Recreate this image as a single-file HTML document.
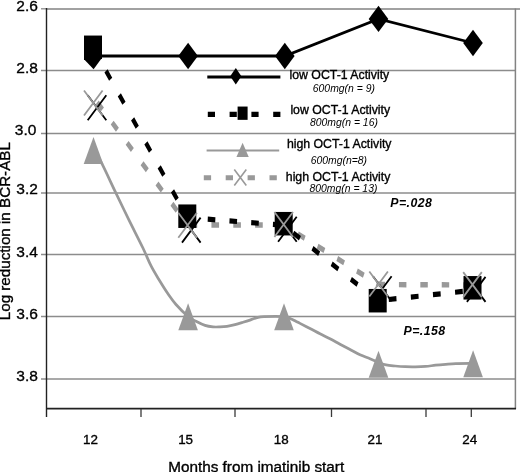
<!DOCTYPE html><html><head><meta charset="utf-8"><style>html,body{margin:0;padding:0;background:#fff;overflow:hidden;width:520px;height:472px;}svg{display:block;will-change:transform;}text{font-family:"Liberation Sans",sans-serif;stroke:#000;stroke-width:0.35px;paint-order:stroke;}text[font-style]{stroke:none;}</style></head><body>
<svg width="520" height="472" viewBox="0 0 520 472">
<rect width="520" height="472" fill="#fff"/>
<line x1="41" y1="8.8" x2="46" y2="8.8" stroke="#8c8c8c" stroke-width="1.3"/>
<line x1="46" y1="9" x2="520" y2="9" stroke="#828282" stroke-width="1.6"/>
<line x1="41" y1="70.5" x2="515.5" y2="70.5" stroke="#8c8c8c" stroke-width="1.3"/>
<line x1="41" y1="133.5" x2="515.5" y2="133.5" stroke="#8c8c8c" stroke-width="1.3"/>
<line x1="41" y1="193" x2="515.5" y2="193" stroke="#8c8c8c" stroke-width="1.3"/>
<line x1="41" y1="254.5" x2="515.5" y2="254.5" stroke="#8c8c8c" stroke-width="1.3"/>
<line x1="41" y1="316.5" x2="515.5" y2="316.5" stroke="#8c8c8c" stroke-width="1.3"/>
<line x1="41" y1="379" x2="515.5" y2="379" stroke="#8c8c8c" stroke-width="1.3"/>
<line x1="515.4" y1="8.5" x2="515.4" y2="409" stroke="#828282" stroke-width="1.5"/>
<line x1="46.5" y1="8" x2="46.5" y2="417" stroke="#222" stroke-width="1.4"/>
<line x1="46" y1="408.6" x2="516" y2="408.6" stroke="#222" stroke-width="1.8"/>
<line x1="141" y1="409" x2="141" y2="417" stroke="#3a3a3a" stroke-width="1.3"/>
<line x1="235" y1="409" x2="235" y2="417" stroke="#3a3a3a" stroke-width="1.3"/>
<line x1="331.5" y1="409" x2="331.5" y2="417" stroke="#3a3a3a" stroke-width="1.3"/>
<line x1="426" y1="409" x2="426" y2="417" stroke="#3a3a3a" stroke-width="1.3"/>
<line x1="471.3" y1="409" x2="471.3" y2="417" stroke="#3a3a3a" stroke-width="1.3"/>
<text transform="translate(37.9,11.0)" font-size="15.5" text-anchor="end" fill="#000">2.6</text>
<text transform="translate(37.9,72.8)" font-size="15.5" text-anchor="end" fill="#000">2.8</text>
<text transform="translate(36.4,135.20000000000002)" font-size="15.5" text-anchor="end" fill="#000">3.0</text>
<text transform="translate(37.9,194.20000000000002)" font-size="15.5" text-anchor="end" fill="#000">3.2</text>
<text transform="translate(37.9,256.7)" font-size="15.5" text-anchor="end" fill="#000">3.4</text>
<text transform="translate(37.9,318.5)" font-size="15.5" text-anchor="end" fill="#000">3.6</text>
<text transform="translate(37.9,380.8)" font-size="15.5" text-anchor="end" fill="#000">3.8</text>
<text x="90.5" y="444.3" font-size="13.4" text-anchor="middle" fill="#000">12</text>
<text x="185.6" y="444.3" font-size="13.4" text-anchor="middle" fill="#000">15</text>
<text x="281.3" y="444.3" font-size="13.4" text-anchor="middle" fill="#000">18</text>
<text x="375" y="444.3" font-size="13.4" text-anchor="middle" fill="#000">21</text>
<text x="469.8" y="444.3" font-size="13.4" text-anchor="middle" fill="#000">24</text>
<text x="256.2" y="472" font-size="15.3" text-anchor="middle" fill="#000">Months from imatinib start</text>
<text transform="translate(10.3,231.2) rotate(-90)" x="0" y="0" font-size="15.2" text-anchor="middle" fill="#000">Log reduction in BCR-ABL</text>
<path d="M93.50,150.20 C94.82,152.28 97.72,155.67 101.40,162.70 C105.08,169.73 111.02,182.87 115.60,192.40 C120.18,201.93 124.38,210.72 128.90,219.90 C133.42,229.08 138.98,239.78 142.70,247.50 C146.42,255.22 148.35,260.62 151.20,266.20 C154.05,271.78 156.95,276.32 159.80,281.00 C162.65,285.68 165.60,290.38 168.30,294.30 C171.00,298.22 172.70,300.80 176.00,304.50 C179.30,308.20 184.77,313.70 188.10,316.50 C191.43,319.30 193.18,319.82 196.00,321.30 C198.82,322.78 202.17,324.47 205.00,325.40 C207.83,326.33 210.50,326.65 213.00,326.90 C215.50,327.15 217.67,327.00 220.00,326.90 C222.33,326.80 224.50,326.68 227.00,326.30 C229.50,325.92 232.33,325.27 235.00,324.60 C237.67,323.93 240.50,323.05 243.00,322.30 C245.50,321.55 247.67,320.88 250.00,320.10 C252.33,319.32 254.67,318.18 257.00,317.60 C259.33,317.02 259.50,316.77 264.00,316.60 C268.50,316.43 279.67,316.30 284.00,316.60 C288.33,316.90 287.97,317.58 290.00,318.40 C292.03,319.22 294.53,320.67 296.20,321.50 C297.87,322.33 297.70,322.23 300.00,323.40 C302.30,324.57 306.67,326.77 310.00,328.50 C313.33,330.23 316.67,332.08 320.00,333.80 C323.33,335.52 326.67,337.07 330.00,338.80 C333.33,340.53 336.67,342.42 340.00,344.20 C343.33,345.98 346.67,347.73 350.00,349.50 C353.33,351.27 356.67,353.27 360.00,354.80 C363.33,356.33 366.92,357.45 370.00,358.70 C373.08,359.95 375.83,361.27 378.50,362.30 C381.17,363.33 383.22,364.28 386.00,364.90 C388.78,365.52 391.98,365.70 395.20,366.00 C398.42,366.30 401.93,366.57 405.30,366.70 C408.67,366.83 412.03,366.85 415.40,366.80 C418.77,366.75 422.13,366.67 425.50,366.40 C428.87,366.13 432.23,365.55 435.60,365.20 C438.97,364.85 442.33,364.57 445.70,364.30 C449.07,364.03 451.23,363.75 455.80,363.60 C460.37,363.45 470.22,363.43 473.10,363.40" fill="none" stroke="#999" stroke-width="2.7" stroke-linejoin="round"/>
<g transform="scale(1,1.3333333333333333)">
<path d="M93.30,72.75 L187.60,168.75" fill="none" stroke="#999" stroke-width="4.1" stroke-dasharray="7.43 13.89" stroke-dashoffset="15.67"/>
<path d="M187.60,168.75 L283.70,168.75" fill="none" stroke="#999" stroke-width="4.1" stroke-dasharray="7.62 14.23" stroke-dashoffset="19.86"/>
<path d="M283.70,168.75 L378.60,213.38" fill="none" stroke="#999" stroke-width="4.1" stroke-dasharray="7.58 14.17" stroke-dashoffset="6.07"/>
<path d="M378.60,213.38 L472.50,213.75" fill="none" stroke="#999" stroke-width="4.1" stroke-dasharray="7.46 13.94" stroke-dashoffset="1.06"/>
</g>
<g transform="scale(1,1.3333333333333333)">
<path d="M93.00,35.48 L187.30,163.20" fill="none" stroke="#000" stroke-width="3.9" stroke-dasharray="7.80 14.58" stroke-dashoffset="0.43"/>
<path d="M187.30,163.20 L283.70,168.90" fill="none" stroke="#000" stroke-width="3.9" stroke-dasharray="7.59 14.18" stroke-dashoffset="1.30"/>
<path d="M283.70,168.90 L377.70,225.53" fill="none" stroke="#000" stroke-width="3.9" stroke-dasharray="7.82 14.61" stroke-dashoffset="11.29"/>
<path d="M377.70,225.53 L472.50,217.73" fill="none" stroke="#000" stroke-width="3.9" stroke-dasharray="7.73 14.45" stroke-dashoffset="11.09"/>
</g>
<path d="M93.30,56.00 L188.10,56.00 L284.80,56.00 L378.50,18.90 L473.00,43.00" fill="none" stroke="#000" stroke-width="2.8" stroke-linejoin="miter"/>
<path d="M93.5,136.89999999999998 L103.3,163.89999999999998 L83.7,163.89999999999998 Z" fill="#999"/>
<path d="M188.1,303.2 L197.9,330.2 L178.29999999999998,330.2 Z" fill="#999"/>
<path d="M284,303.3 L293.8,330.3 L274.2,330.3 Z" fill="#999"/>
<path d="M378.5,350.8 L388.3,377.8 L368.7,377.8 Z" fill="#999"/>
<path d="M473.1,350.2 L482.90000000000003,377.2 L463.3,377.2 Z" fill="#999"/>
<path d="M84.0,57.5 L102.0,56.5 L102.0,57.8 L93.6,69.3 L84.0,59.2 Z" fill="#000"/>
<path d="M188.1,42.8 L197.9,56 L188.1,69.2 L178.29999999999998,56 Z" fill="#000"/>
<path d="M284.8,42.8 L294.6,56 L284.8,69.2 L275.0,56 Z" fill="#000"/>
<path d="M378.5,5.699999999999999 L388.3,18.9 L378.5,32.099999999999994 L368.7,18.9 Z" fill="#000"/>
<path d="M473,29.8 L482.8,43 L473,56.2 L463.2,43 Z" fill="#000"/>
<rect x="84.00" y="35.55" width="18" height="23.5" fill="#000"/>
<rect x="178.30" y="204.45" width="18" height="23.5" fill="#000"/>
<rect x="274.70" y="211.95" width="18" height="23.5" fill="#000"/>
<rect x="368.70" y="288.95" width="18" height="23.5" fill="#000"/>
<rect x="463.50" y="276.05" width="18" height="23.5" fill="#000"/>
<path d="M87.70,95.30 L106.30,120.30 M106.30,95.30 L87.70,120.30" stroke="#000" stroke-width="1.8" fill="none"/>
<path d="M84.00,90.50 L102.60,115.50 M102.60,90.50 L84.00,115.50" stroke="#999" stroke-width="1.8" fill="none"/>
<path d="M182.00,217.60 L200.60,242.60 M200.60,217.60 L182.00,242.60" stroke="#000" stroke-width="1.8" fill="none"/>
<path d="M178.30,212.80 L196.90,237.80 M196.90,212.80 L178.30,237.80" stroke="#999" stroke-width="1.8" fill="none"/>
<path d="M278.10,216.80 L296.70,241.80 M296.70,216.80 L278.10,241.80" stroke="#000" stroke-width="1.8" fill="none"/>
<path d="M274.40,212.00 L293.00,237.00 M293.00,212.00 L274.40,237.00" stroke="#999" stroke-width="1.8" fill="none"/>
<path d="M373.00,276.30 L391.60,301.30 M391.60,276.30 L373.00,301.30" stroke="#000" stroke-width="1.8" fill="none"/>
<path d="M369.30,271.50 L387.90,296.50 M387.90,271.50 L369.30,296.50" stroke="#999" stroke-width="1.8" fill="none"/>
<path d="M466.90,276.90 L485.50,301.90 M485.50,276.90 L466.90,301.90" stroke="#000" stroke-width="1.8" fill="none"/>
<path d="M463.20,272.10 L481.80,297.10 M481.80,272.10 L463.20,297.10" stroke="#999" stroke-width="1.8" fill="none"/>
<line x1="207.3" y1="77" x2="280.4" y2="77" stroke="#000" stroke-width="2.8"/>
<path d="M235.8,68.1 L241.4,76.3 L235.8,84.5 L230.20000000000002,76.3 Z" fill="#000"/>
<line x1="207.8" y1="114.4" x2="281" y2="114.4" stroke="#000" stroke-width="5.3" stroke-dasharray="7.2 14.6"/>
<rect x="237.60" y="106.55" width="10" height="13.3" fill="#000"/>
<line x1="206.6" y1="150.5" x2="279.2" y2="150.5" stroke="#999" stroke-width="2"/>
<path d="M242.6,142.70000000000002 L248.75,157.1 L236.45,157.1 Z" fill="#999"/>
<line x1="203.8" y1="177.8" x2="278" y2="177.8" stroke="#999" stroke-width="5" stroke-dasharray="7.3 14.6"/>
<path d="M234.30,169.50 L246.30,185.50 M246.30,169.50 L234.30,185.50" stroke="#999" stroke-width="1.6" fill="none"/>
<text x="289.5" y="79.3" font-size="12.3" fill="#000">low OCT-1 Activity</text>
<text x="312.8" y="91.6" font-size="10.4" font-style="italic" fill="#000">600mg(n = 9)</text>
<text x="290.4" y="113.7" font-size="12.3" fill="#000">low OCT-1 Activity</text>
<text x="310" y="125.6" font-size="10.4" font-style="italic" fill="#000">800mg(n = 16)</text>
<text x="286.9" y="147.7" font-size="12.3" fill="#000">high OCT-1 Activity</text>
<text x="310.7" y="163.8" font-size="10.4" font-style="italic" fill="#000">600mg(n=8)</text>
<text x="285.8" y="180.5" font-size="12.3" fill="#000">high OCT-1 Activity</text>
<text x="309.5" y="192" font-size="10.4" font-style="italic" fill="#000">800mg(n = 13)</text>
<text x="390.3" y="206.6" font-size="12.3" font-weight="bold" font-style="italic" letter-spacing="0.45" fill="#000">P=.028</text>
<text x="403.5" y="334.9" font-size="12.3" font-weight="bold" font-style="italic" letter-spacing="0.45" fill="#000">P=.158</text>
</svg></body></html>
